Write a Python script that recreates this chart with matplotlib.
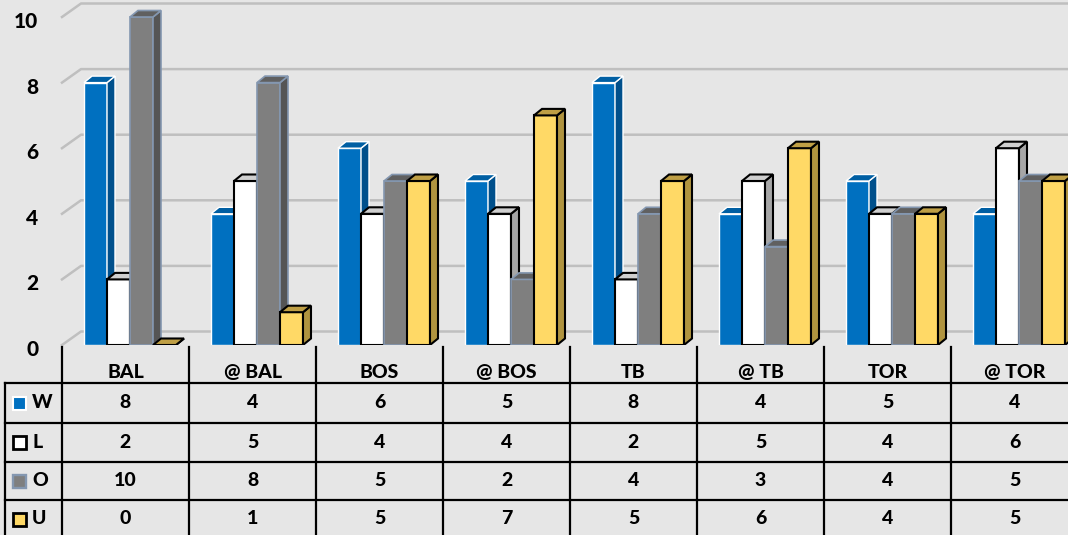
import numpy as np
import matplotlib.pyplot as plt
from matplotlib.patches import Polygon, Rectangle
from matplotlib.transforms import ScaledTranslation

categories = ["BAL", "@ BAL", "BOS", "@ BOS", "TB", "@ TB", "TOR", "@ TOR"]
series_names = ["W", "L", "O", "U"]
w_vals = [8, 4, 6, 5, 8, 4, 5, 4]
l_vals = [2, 5, 4, 4, 2, 5, 4, 6]
o_vals = [10, 8, 5, 2, 4, 3, 4, 5]
u_vals = [0, 1, 5, 7, 5, 6, 4, 5]
y_ticks = [0, 2, 4, 6, 8, 10]

# front, side, top, edge colour, edge width
styles = {
    "W": ("#0070C0", "#00508C", "#005FA3", "white", 1.0),
    "L": ("white", "#A6A6A6", "#CFCFCF", "black", 1.5),
    "O": ("#7F7F7F", "#555555", "#606060", "#8497B0", 1.2),
    "U": ("#FFD966", "#B0943F", "#BF9F45", "black", 1.5),
}

plt.rcParams['font.family'] = ['Lato', 'DejaVu Sans']
plt.rcParams['font.weight'] = 'bold'
WEIGHT = 'black'

# layout in pixels
FIG_W, FIG_H = 1068, 535
COL_PX = 127
PLOT_LEFT = 62
ZERO_Y = 345
UNIT_PX = 32.8
TABLE_TOP = 347
BG = "#E6E6E6"

fig = plt.figure(figsize=(FIG_W / 100, FIG_H / 100), dpi=100, facecolor=BG)

ax = fig.add_axes([PLOT_LEFT / FIG_W, (FIG_H - ZERO_Y) / FIG_H,
                   8 * COL_PX / FIG_W, ZERO_Y / FIG_H])
ax.set_facecolor("none")
ax.set_xlim(-0.5, 7.5)
ax.set_ylim(0, ZERO_Y / UNIT_PX)
for s in ax.spines.values():
    s.set_visible(False)
ax.set_xticks([])
ax.set_yticks(y_ticks)
ax.set_yticklabels([str(t) for t in y_ticks], fontsize=15, fontweight=WEIGHT)
ax.tick_params(axis='y', length=0, pad=17)
shift = ScaledTranslation(0, -0.03, fig.dpi_scale_trans)
for lab in ax.get_yticklabels():
    lab.set_transform(lab.get_transform() + shift)

# back wall gridlines
wall_dx = 19 / COL_PX
wall_dy = 13.5 / UNIT_PX
for t in y_ticks:
    ax.plot([-0.5, -0.5 + wall_dx, 7.6], [t, t + wall_dy, t + wall_dy],
            color="#BFBFBF", lw=1.8, zorder=1, clip_on=False)

# 3d bars
bar_w = 23 / COL_PX
start = 22 / COL_PX
dx = 8 / COL_PX
dy = 6.5 / UNIT_PX
all_vals = [w_vals, l_vals, o_vals, u_vals]
for j, (name, vals) in enumerate(zip(series_names, all_vals)):
    front, side, top, edge, ew = styles[name]
    x0 = np.arange(len(categories)) - 0.5 + start + j * bar_w
    z = 10 + 3 * j
    ax.bar(x0, vals, width=bar_w, align='edge', color=front,
           edgecolor=edge, linewidth=ew, zorder=z)
    for xa, v in zip(x0, vals):
        xb = xa + bar_w
        ax.add_patch(Polygon([(xb, 0), (xb + dx, dy), (xb + dx, v + dy), (xb, v)],
                             closed=True, facecolor=side, edgecolor=edge,
                             linewidth=ew, zorder=z + 1))
        ax.add_patch(Polygon([(xa, v), (xb, v), (xb + dx, v + dy), (xa + dx, v + dy)],
                             closed=True, facecolor=top, edgecolor=edge,
                             linewidth=ew, zorder=z + 2))

# data table
tax = fig.add_axes([PLOT_LEFT / FIG_W, 0, 8 * COL_PX / FIG_W, (FIG_H - TABLE_TOP) / FIG_H])
tax.set_facecolor("none")
tax.set_xlim(-0.5, 7.5)
tax.set_ylim(FIG_H, TABLE_TOP)
tax.axis("off")

row_lines = [383, 423, 462, 500]
row_centers = [403, 442, 481, 519]
header_y = 372
left_edge = -0.5 - (PLOT_LEFT - 5) / COL_PX

for b in np.arange(-0.5, 8.0, 1.0):
    tax.plot([b, b], [TABLE_TOP, FIG_H + 5], color="black", lw=1.6, clip_on=False)
tax.plot([left_edge, left_edge], [row_lines[0], FIG_H + 5], color="black", lw=1.6, clip_on=False)
for yl in row_lines:
    tax.plot([left_edge, 7.6], [yl, yl], color="black", lw=1.6, clip_on=False)

for i, c in enumerate(categories):
    tax.text(i, header_y, c, ha='center', va='center', fontsize=14, fontweight=WEIGHT)
    for r, vals in enumerate(all_vals):
        tax.text(i, row_centers[r], str(vals[i]), ha='center', va='center',
                 fontsize=14, fontweight=WEIGHT)

key_x = -0.5 - (PLOT_LEFT - 13) / COL_PX
key_w = 13 / COL_PX
text_x = -0.5 - (PLOT_LEFT - 32) / COL_PX
for r, name in enumerate(series_names):
    front, side, top, edge, ew = styles[name]
    tax.add_patch(Rectangle((key_x, row_centers[r] - 6.5), key_w, 13,
                            facecolor=front, edgecolor=edge, linewidth=ew + 0.5,
                            clip_on=False))
    tax.text(text_x, row_centers[r], name, ha='left', va='center',
             fontsize=14, fontweight=WEIGHT)

fig.savefig("out.png", dpi=100, facecolor=BG)
